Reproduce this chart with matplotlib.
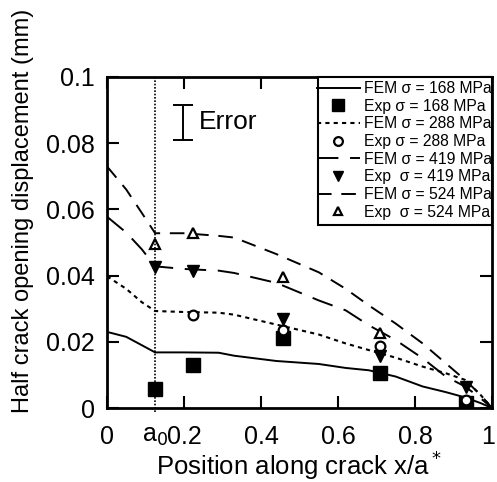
import matplotlib.pyplot as plt
import matplotlib.transforms as mtransforms
from matplotlib.patches import Rectangle

plt.rcParams["font.family"] = ["Liberation Sans", "DejaVu Sans"]

# FEM curves
fem_x = [0.0, 0.05, 0.09, 0.125, 0.2, 0.29, 0.33, 0.44, 0.55, 0.62, 0.68, 0.75, 0.82, 0.88, 0.93, 0.97, 1.0]
fem_168 = [0.023, 0.0215, 0.019, 0.0168, 0.0168, 0.0167, 0.0158, 0.0142, 0.0133, 0.0121, 0.0114, 0.0095, 0.0065, 0.0048, 0.0032, 0.0015, 0.0]
fem_288 = [0.0398, 0.036, 0.032, 0.0293, 0.029, 0.0288, 0.0282, 0.0252, 0.0222, 0.0195, 0.0175, 0.0152, 0.0125, 0.0105, 0.0085, 0.004, 0.0]
fem_419 = [0.0578, 0.053, 0.048, 0.0428, 0.042, 0.0415, 0.0408, 0.0378, 0.0325, 0.0295, 0.025, 0.0205, 0.015, 0.0095, 0.0065, 0.003, 0.0]
fem_524 = [0.073, 0.066, 0.059, 0.0528, 0.0528, 0.052, 0.0515, 0.0465, 0.041, 0.036, 0.031, 0.0255, 0.0195, 0.0135, 0.0085, 0.004, 0.0]

# experimental points
exp_x = [0.125, 0.223, 0.457, 0.709, 0.932]
exp_168 = [0.0058, 0.0131, 0.0212, 0.0106, 0.0016]
exp_288_x = [0.223, 0.457, 0.709, 0.932]
exp_288 = [0.0282, 0.0236, 0.0186, 0.0024]
exp_419 = [0.0427, 0.0415, 0.027, 0.0156, 0.0064]
exp_524_x = [0.125, 0.223, 0.457, 0.709]
exp_524 = [0.0494, 0.053, 0.0397, 0.0227]

a0 = 0.125
err_x, err_y, err_half = 0.197, 0.0863, 0.0053

fig = plt.figure(figsize=(4.97, 4.82), dpi=100)
ax = fig.add_axes([107 / 497, 1 - 408 / 482, 385 / 497, 331 / 482])

ax.plot(fem_x, fem_168, "k-", lw=1.4, label="FEM σ = 168 MPa")
ax.plot(exp_x, exp_168, "ks", ms=9.5, label="Exp σ = 168 MPa")
ax.plot(fem_x, fem_288, "k", lw=1.5, ls=(0, (2, 2)), label="FEM σ = 288 MPa")
ax.plot(exp_288_x, exp_288, "o", mfc="white", mec="k", mew=1.6, ms=7, label="Exp σ = 288 MPa")
ax.plot(fem_x, fem_419, "k", lw=1.4, ls=(0, (11, 6)), label="FEM σ = 419 MPa")
ax.plot(exp_x, exp_419, "kv", ms=8, label="Exp  σ = 419 MPa")
ax.plot(fem_x, fem_524, "k", lw=1.4, ls=(0, (7.5, 5)), label="FEM σ = 524 MPa")
ax.plot(exp_524_x, exp_524, "^", mfc="white", mec="k", mew=1.6, ms=6.5, label="Exp  σ = 524 MPa")

# a0 line
ax.axvline(a0, color="k", lw=1.2, ls=(0, (1, 1)), ymin=-0.012, clip_on=False)

# error bar symbol
ax.errorbar([err_x], [err_y], yerr=[err_half], fmt="none", ecolor="k", elinewidth=1.4, capsize=7.5, capthick=1.4)
ax.text(0.239, err_y, "Error", fontsize=19, va="center", ha="left")

ax.set_xlim(0, 1)
ax.set_ylim(0, 0.1)
ax.set_xticks([0, 0.2, 0.4, 0.6, 0.8, 1])
ax.set_xticklabels(["0", "0.2", "0.4", "0.6", "0.8", "1"])
ax.set_yticks([0, 0.02, 0.04, 0.06, 0.08, 0.1])
ax.set_yticklabels(["0", "0.02", "0.04", "0.06", "0.08", "0.1"])
ax.tick_params(direction="in", length=8.5, width=1.5, labelsize=18, top=True, right=True)
ax.tick_params(axis="x", pad=12)
ax.tick_params(axis="y", pad=8.5)
# keep the last x label inside the figure
last = ax.get_xticklabels()[-1]
last.set_transform(last.get_transform() + mtransforms.ScaledTranslation(-3 / 72, 0, fig.dpi_scale_trans))

ax.annotate("a$_0$", xy=(0.09, 0), xycoords=("data", "axes fraction"), xytext=(0, -24.5),
            textcoords="offset points", fontsize=18, ha="left", va="baseline")
for s in ax.spines.values():
    s.set_linewidth(2)

ax.set_xlabel("Position along crack x/a$^*$", fontsize=18.5, labelpad=0)
ax.set_ylabel("Half crack opening displacement (mm)", fontsize=17)
ax.yaxis.set_label_coords(-0.19, 0.595)

# legend box
ax.add_patch(Rectangle((0.548, 0.553), 0.452, 0.447, transform=ax.transAxes, facecolor="white",
                       edgecolor="k", lw=1.5, zorder=4, clip_on=False))
leg = ax.legend(loc="upper left", bbox_to_anchor=((314 - 107) / 385, (408 - 78) / 331),
                fontsize=11.3, frameon=False, borderaxespad=0, borderpad=0.2,
                handlelength=2.7, handletextpad=0.3, labelspacing=0.17, markerscale=0.9)
leg.set_zorder(5)

fig.savefig("out.png", dpi=100)
